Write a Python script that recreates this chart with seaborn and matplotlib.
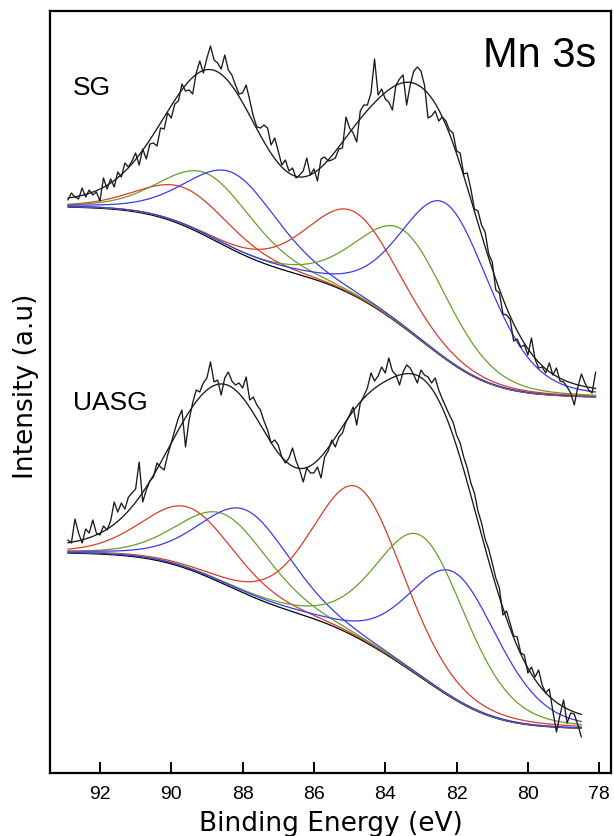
import numpy as np
import pandas as pd
import matplotlib
matplotlib.use("Agg")
import matplotlib.pyplot as plt
import seaborn as sns

# ---------------------------------------------------------------------------
# Mn 3s core-level spectra (binding energy scan, 0.1 eV step)
# ---------------------------------------------------------------------------
scan_start_ev = 92.9
scan_step_ev = 0.1

sg_counts = [
    573, 580, 576, 574, 585, 576, 583, 578, 581, 572,
    595, 584, 594, 586, 601, 596, 610, 606, 612, 620,
    608, 624, 614, 629, 630, 627, 645, 644, 660, 655,
    669, 672, 689, 682, 683, 679, 700, 712, 700, 715,
    727, 713, 710, 704, 718, 703, 698, 688, 679, 680,
    688, 673, 657, 646, 645, 648, 645, 628, 635, 622,
    608, 613, 602, 605, 595, 598, 602, 615, 598, 604,
    592, 614, 616, 612, 613, 615, 624, 625, 656, 645,
    640, 631, 662, 668, 668, 680, 714, 678, 684, 674,
    671, 663, 688, 694, 698, 668, 688, 702, 706, 702,
    688, 655, 657, 662, 652, 656, 652, 643, 640, 622,
    620, 599, 600, 584, 564, 562, 548, 541, 519, 511,
    483, 480, 459, 458, 454, 432, 434, 426, 428, 418,
    435, 414, 405, 406, 400, 410, 398, 405, 392, 391,
    386, 380, 368, 386, 399, 390, 383, 380, 401,
]

uasg_counts = [
    233, 230, 254, 240, 230, 244, 240, 253, 240, 238,
    247, 243, 252, 271, 261, 270, 264, 276, 280, 284,
    311, 271, 283, 292, 296, 310, 306, 303, 318, 330,
    343, 355, 363, 326, 353, 370, 383, 381, 390, 395,
    411, 391, 393, 378, 395, 401, 392, 388, 390, 385,
    396, 373, 376, 368, 363, 352, 343, 330, 333, 328,
    316, 310, 315, 325, 312, 303, 291, 305, 300, 300,
    306, 295, 316, 322, 333, 326, 336, 340, 351, 358,
    366, 348, 370, 377, 385, 400, 392, 397, 406, 400,
    415, 402, 398, 388, 401, 408, 405, 398, 390, 403,
    398, 396, 390, 395, 383, 374, 366, 358, 351, 338,
    330, 316, 305, 290, 280, 262, 250, 234, 224, 210,
    195, 185, 158, 162, 150, 137, 136, 120, 118, 100,
    106, 96, 103, 88, 80, 84, 62, 41, 58, 73,
    50, 60, 59, 48, 36,
]

# Fitted multiplet components: (centre eV, height) per doublet member
component_colors = ["#dc3b26", "#67a02c", "#3a3af2"]

sg_centers_high = [89.60, 88.95, 88.25]
sg_heights_high = [38, 63, 77]
sg_centers_low = [84.88, 83.47, 82.28]
sg_heights_low = [84, 97, 156]

uasg_centers_high = [89.50, 88.50, 87.90]
uasg_heights_high = [62, 70, 84]
uasg_centers_low = [84.76, 82.96, 82.05]
uasg_heights_low = [151, 142, 127]

peak_fwhm = 3.0
lorentz_fraction = 0.25

# Shirley background end levels (high-BE end, low-BE end)
sg_background_ends = (566, 376)
uasg_background_ends = (220, 44.7)

x_ticks = [92, 90, 88, 86, 84, 82, 80, 78]
x_limits = (93.4, 77.67)
y_limits = (0, 762.3)


def gl_peak(x, center, height):
    sigma = peak_fwhm / (2.0 * np.sqrt(2.0 * np.log(2.0)))
    gauss = np.exp(-((x - center) ** 2) / (2.0 * sigma ** 2))
    lorentz = 1.0 / (1.0 + ((x - center) / (peak_fwhm / 2.0)) ** 2)
    return height * ((1.0 - lorentz_fraction) * gauss + lorentz_fraction * lorentz)


def shirley(x_desc, total, ends):
    # cumulate peak area from the low binding-energy end upwards
    x_asc = x_desc[::-1]
    t_asc = total[::-1]
    steps = 0.5 * (t_asc[1:] + t_asc[:-1]) * np.diff(x_asc)
    cum = np.concatenate([[0.0], np.cumsum(steps)])
    high, low = ends
    bg_asc = low + (high - low) * cum / cum[-1]
    return bg_asc[::-1]


def draw_spectrum(ax, counts, centers_hi, heights_hi, centers_lo, heights_lo, bg_ends):
    counts = np.asarray(counts, dtype=float)
    energy = np.round(scan_start_ev - scan_step_ev * np.arange(len(counts)), 2)
    fine = np.linspace(energy[0], energy[-1], 700)

    comps = []
    for c, h in zip(centers_hi, heights_hi):
        comps.append(gl_peak(fine, c, h))
    for c, h in zip(centers_lo, heights_lo):
        comps.append(gl_peak(fine, c, h))
    total = np.sum(comps, axis=0)
    bg = shirley(fine, total, bg_ends)

    sns.lineplot(x=fine, y=bg, ax=ax, color="black", lw=0.9, sort=False, estimator=None)
    colors = component_colors + component_colors
    for comp, col in zip(comps, colors):
        sns.lineplot(x=fine, y=bg + comp, ax=ax, color=col, lw=0.9,
                     sort=False, estimator=None)
    sns.lineplot(x=fine, y=bg + total, ax=ax, color="#1a1a1a", lw=0.95,
                 sort=False, estimator=None)
    data = pd.DataFrame({"Binding Energy": energy, "Intensity": counts})
    sns.lineplot(data=data, x="Binding Energy", y="Intensity", ax=ax,
                 color="#1a1a1a", lw=0.95, sort=False, estimator=None)


sns.set_theme(style="white")
plt.rcParams["font.family"] = ["Liberation Sans", "DejaVu Sans"]

fig = plt.figure(figsize=(6.14, 8.36), dpi=100)
ax = fig.add_axes([50 / 614, 63 / 836, 561 / 614, 762.3 / 836])

draw_spectrum(ax, sg_counts, sg_centers_high, sg_heights_high,
              sg_centers_low, sg_heights_low, sg_background_ends)
draw_spectrum(ax, uasg_counts, uasg_centers_high, uasg_heights_high,
              uasg_centers_low, uasg_heights_low, uasg_background_ends)

ax.set_xlim(*x_limits)
ax.set_ylim(*y_limits)
ax.set_xticks(x_ticks)
ax.set_xticklabels([str(t) for t in x_ticks])
ax.set_yticks([])
ax.tick_params(axis="x", direction="in", length=8, width=1.4, pad=9.5,
               labelsize=14, colors="black", top=False, bottom=True)
for side in ["left", "right", "top", "bottom"]:
    ax.spines[side].set_visible(True)
    ax.spines[side].set_color("black")
    ax.spines[side].set_linewidth(1.6)

ax.set_xlabel("Binding Energy (eV)", fontsize=19, family="DejaVu Sans",
              color="black", va="baseline")
ax.xaxis.set_label_coords(0.5, -(831 - 773) / 762.3)
ax.set_ylabel("Intensity (a.u)", fontsize=19, family="DejaVu Sans",
              color="black", va="center")
ax.yaxis.set_label_coords(-0.043, 0.507)

ax.text(0.973, 0.926, "Mn 3s", transform=ax.transAxes, ha="right",
        va="baseline", fontsize=30, color="black")
ax.text(0.041, 0.889, "SG", transform=ax.transAxes, ha="left",
        va="baseline", fontsize=19, color="black")
ax.text(0.041, 0.476, "UASG", transform=ax.transAxes, ha="left",
        va="baseline", fontsize=19, color="black")

fig.savefig("out.png", dpi=100)
